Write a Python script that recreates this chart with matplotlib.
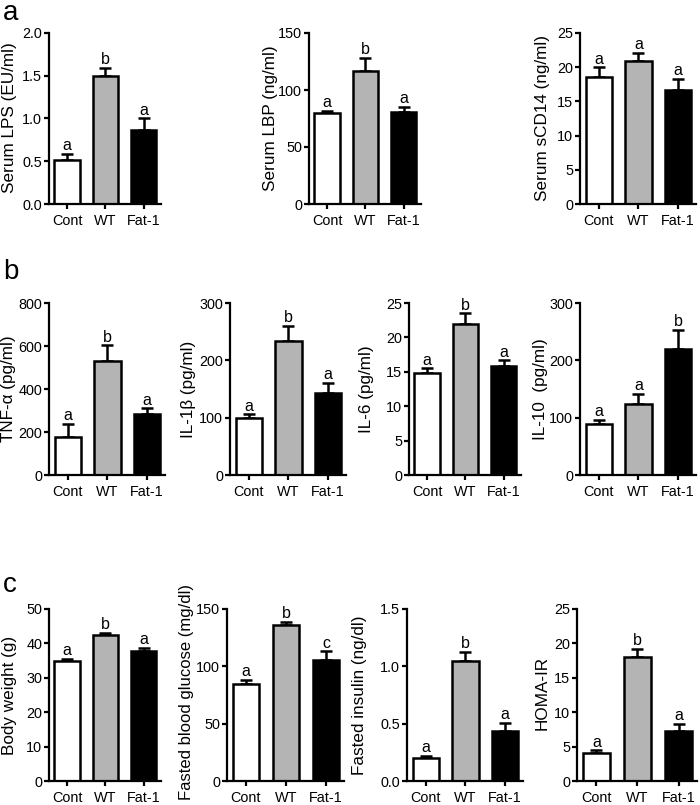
import matplotlib
matplotlib.use("Agg")
import matplotlib.pyplot as plt
from matplotlib import font_manager as fm

plt.rcParams['font.family'] = ['Liberation Sans', 'DejaVu Sans']
installed = {f.name for f in fm.fontManager.ttflist}
if 'Liberation Sans Narrow' in installed:
    NARROW = ['Liberation Sans Narrow', 'DejaVu Sans']
    tick_fs, sig_fs = 12.0, 13.0
else:
    NARROW = ['Liberation Sans', 'DejaVu Sans']
    tick_fs, sig_fs = 10.4, 11.5

groups = ["Cont", "WT", "Fat-1"]
bar_colors = ["white", "#b4b4b4", "black"]

# ---- data (mean, upper SEM, letters) ----
lps = [0.52, 1.50, 0.86]
lps_err = [0.07, 0.09, 0.14]
lps_sig = ["a", "b", "a"]

lbp = [80, 117, 81]
lbp_err = [2, 11, 4.5]
lbp_sig = ["a", "b", "a"]

scd14 = [18.5, 20.9, 16.7]
scd14_err = [1.5, 1.2, 1.6]
scd14_sig = ["a", "a", "a"]

tnf = [175, 530, 283]
tnf_err = [63, 73, 27]
tnf_sig = ["a", "b", "a"]

il1b = [99, 234, 143]
il1b_err = [7, 26, 18]
il1b_sig = ["a", "b", "a"]

il6 = [14.8, 22.0, 15.8]
il6_err = [0.7, 1.5, 0.85]
il6_sig = ["a", "b", "a"]

il10 = [89, 123, 220]
il10_err = [7, 18, 33]
il10_sig = ["a", "a", "b"]

bw = [34.9, 42.5, 37.9]
bw_err = [0.7, 0.6, 0.9]
bw_sig = ["a", "b", "a"]

glucose = [85, 136, 105.5]
glucose_err = [3.5, 2.8, 7.5]
glucose_sig = ["a", "b", "c"]

insulin = [0.20, 1.05, 0.44]
insulin_err = [0.02, 0.075, 0.065]
insulin_sig = ["a", "b", "a"]

homa = [4.1, 18.0, 7.2]
homa_err = [0.35, 1.2, 1.1]
homa_sig = ["a", "b", "a"]

W, H = 700, 805
fig = plt.figure(figsize=(W / 100, H / 100), dpi=100)

# layout: (x0 px, ytop px, ybot px, width px, label x px, label y px, label size)
panels = [
    (49, 33, 204, 112, 10, 118, 12.3, lps, lps_err, lps_sig, "Serum LPS (EU/ml)", 2.0, 0.5, "%.1f"),
    (309, 33, 204, 112, 270, 118, 12.3, lbp, lbp_err, lbp_sig, "Serum LBP (ng/ml)", 150, 50, "%d"),
    (580, 33, 204, 116, 542, 118, 12.3, scd14, scd14_err, scd14_sig, "Serum sCD14 (ng/ml)", 25, 5, "%d"),
    (49, 303, 475, 116, 9, 389, 12.3, tnf, tnf_err, tnf_sig, "TNF-\u03b1 (pg/ml)", 800, 200, "%d"),
    (230, 303, 475, 116, 189, 389, 12.3, il1b, il1b_err, il1b_sig, "IL-1\u03b2 (pg/ml)", 300, 100, "%d"),
    (409, 303, 475, 112, 366, 389, 12.3, il6, il6_err, il6_sig, "IL-6 (pg/ml)", 25, 5, "%d"),
    (580, 303, 475, 116, 541, 389, 12.3, il10, il10_err, il10_sig, "IL-10  (pg/ml)", 300, 100, "%d"),
    (49, 609, 781, 112, 10, 695, 12.3, bw, bw_err, bw_sig, "Body weight (g)", 50, 10, "%d"),
    (227, 609, 781, 117, 186, 692, 12.0, glucose, glucose_err, glucose_sig, "Fasted blood glucose (mg/dl)", 150, 50, "%d"),
    (407, 609, 781, 116, 360, 695, 12.3, insulin, insulin_err, insulin_sig, "Fasted insulin (ng/dl)", 1.5, 0.5, "%.1f"),
    (577, 609, 781, 120, 542, 693, 12.3, homa, homa_err, homa_sig, "HOMA-IR", 25, 5, "%d"),
]

lw = 1.8
x = list(range(len(groups)))
for (x0, yt, yb, wpx, lx, ly, lfs, vals, errs, sig, ylab, ymax, ystep, fmt) in panels:
    ax = fig.add_axes([x0 / W, 1 - yb / H, wpx / W, (yb - yt) / H])
    ax.bar(x, vals, width=0.66, color=bar_colors, edgecolor="black",
           linewidth=lw, zorder=2)
    ax.errorbar(x, vals, yerr=[[0] * 3, errs], fmt="none", ecolor="black",
                elinewidth=lw, capsize=4.5, capthick=lw, zorder=1)
    for xi, v, e, s in zip(x, vals, errs, sig):
        ax.annotate(s, (xi, v + e), xytext=(0, 0.5), textcoords="offset points",
                    ha="center", va="bottom", fontsize=sig_fs, family=NARROW)
    ax.set_xlim(-0.47, 2.45)
    ax.set_ylim(0, ymax)
    n = int(round(ymax / ystep))
    ticks = [i * ystep for i in range(n + 1)]
    ax.set_yticks(ticks)
    ax.set_yticklabels([fmt % t for t in ticks], family=NARROW, fontsize=tick_fs)
    ax.set_xticks(x)
    ax.set_xticklabels(groups, family=NARROW, fontsize=tick_fs)
    for sp in ["top", "right"]:
        ax.spines[sp].set_visible(False)
    for sp in ["left", "bottom"]:
        ax.spines[sp].set_linewidth(1.6)
    ax.tick_params(axis="both", width=1.6, length=3.5, pad=1.5)
    ax.tick_params(axis="x", pad=4)
    fig.text(lx / W, 1 - ly / H, ylab, rotation=90, ha="center", va="center",
             fontsize=lfs)

fig.text(3 / W, 1 - 0 / H, "a", fontsize=20, va="top", ha="left")
fig.text(3 / W, 1 - 259 / H, "b", fontsize=20, va="top", ha="left")
fig.text(3 / W, 1 - 572 / H, "c", fontsize=20, va="top", ha="left")

fig.savefig("out.png", dpi=100)
